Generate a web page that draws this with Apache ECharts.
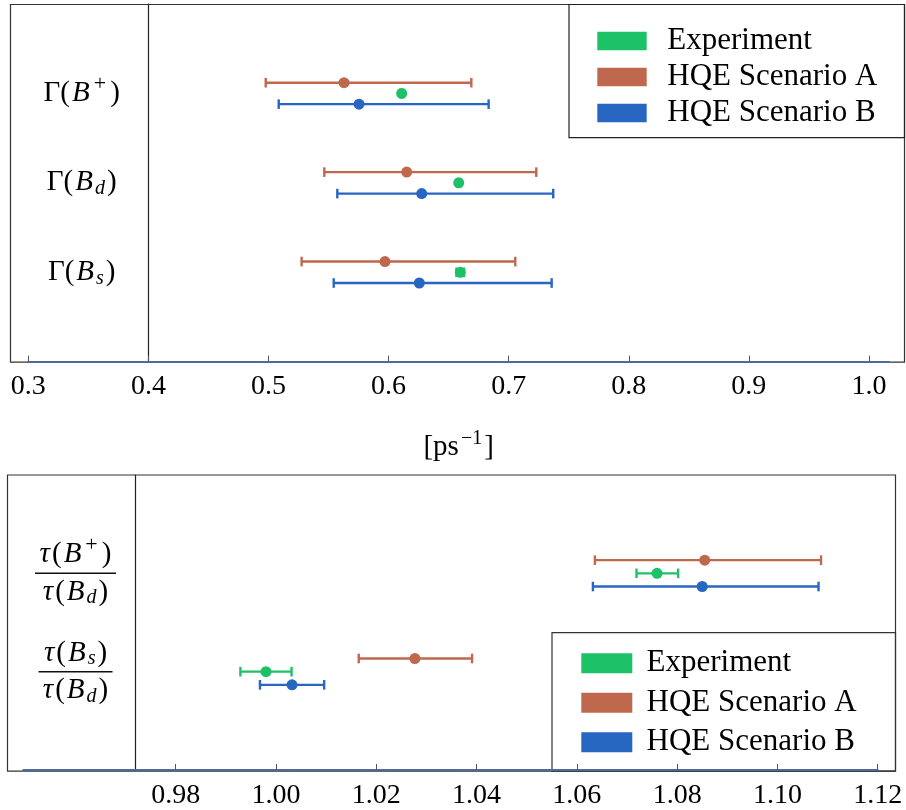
<!DOCTYPE html>
<html><head><meta charset="utf-8">
<script src="https://cdn.jsdelivr.net/npm/echarts@6/dist/echarts.min.js"></script>
<style>html,body{margin:0;padding:0;background:#fff}#c{width:906px;height:810px}</style>
</head><body><div id="c"></div>
<script>
// ---------- data ----------
const seriesNames = ['Experiment', 'HQE Scenario A', 'HQE Scenario B'];
const seriesColors = ['#1DC167', '#C0684D', '#2766C1'];

// top panel: decay widths [ps^-1]; rows at y = 3, 2, 1
const topRows = [3, 2, 1];
const topLabels = [
  '{n|Γ(}{i|B}{plus|+}{n|)}',
  '{n|Γ(}{i|B}{sub|d}{n|)}',
  '{n|Γ(}{i|B}{sub|s}{n|)}'
];
// [low, central, high]
const topExp = [[0.6095, 0.6109, 0.6123], [0.6570, 0.6584, 0.6598], [0.6565, 0.6597, 0.6629]];
const topA   = [[0.4977, 0.5629, 0.6689], [0.5465, 0.6151, 0.7230], [0.5276, 0.5970, 0.7055]];
const topB   = [[0.5085, 0.5754, 0.6833], [0.5573, 0.6276, 0.7371], [0.5543, 0.6256, 0.7358]];
const topTicks = [0.3, 0.4, 0.5, 0.6, 0.7, 0.8, 0.9, 1.0];
const topAxisName = '{n|[ps}{sup|−1}{n|]}';

// bottom panel: lifetime ratios; rows at y = 2, 1
const botRows = [2, 1];
const botLabels = [
  '{i|τ}{n|(}{i|B}{plus|+}{n|)}\n{barA| }\n{i|τ}{n|(}{i|B}{sub|d}{n|)}',
  '{i|τ}{n|(}{i|B}{sub|s}{n|)}\n{barB| }\n{i|τ}{n|(}{i|B}{sub|d}{n|)}'
];
const botExp = [[1.0719, 1.0760, 1.0802], [0.9929, 0.9980, 1.0031]];
const botA   = [[1.0636, 1.0855, 1.1087], [1.0165, 1.0277, 1.0391]];
const botB   = [[1.0632, 1.0850, 1.1082], [0.9968, 1.0032, 1.0096]];
const botTicks = [0.98, 1.00, 1.02, 1.04, 1.06, 1.08, 1.10, 1.12];

// ---------- styles ----------
const FONT = "'Liberation Serif', 'DejaVu Serif', serif";
const rich = {
  n:   {fontFamily: FONT, fontSize: 29, color: '#000', lineHeight: 36, padding: [0, 1, 0, 1]},
  i:   {fontFamily: FONT, fontSize: 29, color: '#000', fontStyle: 'italic', lineHeight: 36, padding: [0, 1, 0, 1]},
  sup: {fontFamily: FONT, fontSize: 20, color: '#000', lineHeight: 18, padding: [0, 1, 18, 1]},
  plus: {fontFamily: FONT, fontSize: 22, color: '#000', lineHeight: 18, padding: [0, 3, 18, 3]},
  sub: {fontFamily: FONT, fontSize: 20, color: '#000', fontStyle: 'italic', lineHeight: 24, padding: [12, 1, 0, 1]},
  barA: {width: 81, height: 1.5, lineHeight: 1.5, fontSize: 1, backgroundColor: '#111'},
  barB: {width: 74, height: 1.5, lineHeight: 1.5, fontSize: 1, backgroundColor: '#111'}
};

function renderErr(params, api) {
  const y = api.value(2);
  const p1 = api.coord([api.value(0), y]);
  const p2 = api.coord([api.value(1), y]);
  const c = api.visual('color');
  const h = 4.8;
  const st = {stroke: c, lineWidth: 2.4, fill: null};
  return {type: 'group', children: [
    {type: 'line', shape: {x1: p1[0], y1: p1[1], x2: p2[0], y2: p2[1]}, style: st},
    {type: 'line', shape: {x1: p1[0], y1: p1[1] - h, x2: p1[0], y2: p1[1] + h}, style: st},
    {type: 'line', shape: {x1: p2[0], y1: p2[1] - h, x2: p2[0], y2: p2[1] + h}, style: st}
  ]};
}

const series = [];
function addPanel(idx, rows, sets, offset) {
  const offs = [0, offset, -offset];
  sets.forEach((set, s) => {
    series.push({
      type: 'custom', name: seriesNames[s], xAxisIndex: idx, yAxisIndex: idx,
      itemStyle: {color: seriesColors[s]}, renderItem: renderErr, silent: true,
      encode: {x: [0, 1], y: 2},
      data: set.map((d, k) => [d[0], d[2], rows[k] + offs[s]]), z: 3
    });
    series.push({
      type: 'scatter', name: seriesNames[s], xAxisIndex: idx, yAxisIndex: idx,
      itemStyle: {color: seriesColors[s], opacity: 1}, symbolSize: 11, silent: true,
      data: set.map((d, k) => [d[1], rows[k] + offs[s]]), z: 4
    });
  });
}
addPanel(0, topRows, [topExp, topA, topB], 0.12);
addPanel(1, botRows, [botExp, botA, botB], 0.134);

function yLabelFormatter(rows, labels) {
  return v => { const k = rows.indexOf(v); return k >= 0 ? labels[k] : ''; };
}

const legendBase = {
  orient: 'vertical', icon: 'rect', selectedMode: false,
  itemStyle: {borderWidth: 0},
  textStyle: {fontFamily: FONT, fontSize: 31, color: '#000', lineHeight: 32}
};

const option = {
  animation: false,
  backgroundColor: '#fff',
  textStyle: {fontFamily: FONT},
  grid: [
    {left: 28.3, right: 17, top: 4, height: 357.7},
    {left: 23.3, right: 28.3, top: 475, height: 295.7}
  ],
  xAxis: [
    {gridIndex: 0, type: 'value', min: 0.3, max: 1.0167,
     axisLine: {show: true, lineStyle: {color: '#4a6aa0', width: 2}},
     axisTick: {show: true, inside: true, length: 6, lineStyle: {color: '#555', width: 1}, customValues: topTicks},
     axisLabel: {customValues: topTicks, formatter: v => v.toFixed(1), fontFamily: FONT, fontSize: 28, color: '#000', margin: 11},
     splitLine: {show: false},
     name: topAxisName, nameLocation: 'middle', nameGap: 68,
     nameTextStyle: {rich: rich}},
    {gridIndex: 1, type: 'value', min: 0.9496, max: 1.12,
     axisLine: {show: true, lineStyle: {color: '#4a6aa0', width: 2}},
     axisTick: {show: true, inside: true, length: 6, lineStyle: {color: '#555', width: 1}, customValues: botTicks},
     axisLabel: {customValues: botTicks, formatter: v => v.toFixed(2), fontFamily: FONT, fontSize: 28, color: '#000', margin: 12},
     splitLine: {show: false}}
  ],
  yAxis: [
    {gridIndex: 0, type: 'value', min: 0, max: 4, interval: 1, offset: -120.1,
     axisLine: {show: true, lineStyle: {color: '#222', width: 1.2}},
     axisTick: {show: false}, splitLine: {show: false},
     axisLabel: {formatter: yLabelFormatter(topRows, topLabels), align: 'center', margin: 66.7, rich: rich}},
    {gridIndex: 1, type: 'value', min: 0, max: 3, interval: 1, offset: -112.4,
     axisLine: {show: true, lineStyle: {color: '#222', width: 1.2}},
     axisTick: {show: false}, splitLine: {show: false},
     axisLabel: {formatter: yLabelFormatter(botRows, botLabels), align: 'center', margin: 60.2, rich: rich}}
  ],
  legend: [
    Object.assign({}, legendBase, {left: 592.3, top: 20, itemWidth: 49.4, itemHeight: 18.3, itemGap: 4,
      textStyle: Object.assign({}, legendBase.textStyle, {padding: [0, 0, 0, 15.6]})}),
    Object.assign({}, legendBase, {left: 576.3, top: 642.3, itemWidth: 51, itemHeight: 20, itemGap: 7.5,
      textStyle: Object.assign({}, legendBase.textStyle, {padding: [0, 0, 0, 9.3]})})
  ],
  graphic: [
    {type: 'rect', z: -1, shape: {x: 10.5, y: 4.5, width: 894, height: 357.7}, style: {fill: 'none', stroke: '#333', lineWidth: 1.2}},
    {type: 'rect', z: -1, shape: {x: 7.5, y: 475, width: 888, height: 296.2}, style: {fill: 'none', stroke: '#333', lineWidth: 1.2}},
    {type: 'rect', z: -1, shape: {x: 569, y: 4.5, width: 335.5, height: 133.2}, style: {fill: 'none', stroke: '#222', lineWidth: 1.2}},
    {type: 'rect', z: -1, shape: {x: 552, y: 632.7, width: 343.5, height: 138.5}, style: {fill: 'none', stroke: '#333', lineWidth: 1.2}}
  ],
  series: series
};
const chart = echarts.init(document.getElementById('c'));
chart.setOption(option);
</script></body></html>
